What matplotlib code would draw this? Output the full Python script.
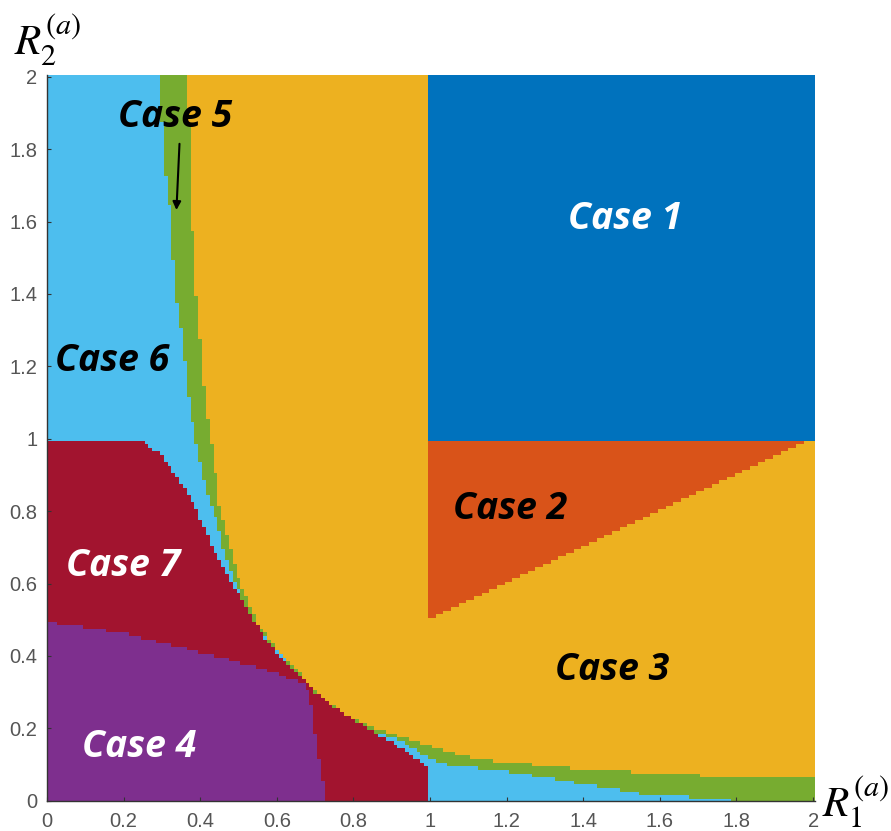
import numpy as np
import matplotlib
matplotlib.use("Agg")
import matplotlib.pyplot as plt
from matplotlib.colors import ListedColormap, BoundaryNorm

# ---- region boundaries (x, y) ----
# lower edge of the Case 5 band (Case 6 / Case 5 boundary)
band_lo_x = [0.294, 0.297, 0.307, 0.325, 0.334, 0.355, 0.368, 0.386, 0.398, 0.416,
             0.438, 0.459, 0.490, 0.520, 0.542, 0.580, 0.625, 0.668, 0.711, 0.760,
             0.820, 0.867, 0.919, 0.963, 1.023, 1.093, 1.171, 1.258, 1.388, 1.440,
             1.544, 1.644, 1.783, 1.790, 2.000]
band_lo_y = [2.000, 1.930, 1.750, 1.600, 1.420, 1.270, 1.130, 1.005, 0.940, 0.860,
             0.793, 0.701, 0.609, 0.535, 0.490, 0.440, 0.385, 0.338, 0.284, 0.240,
             0.205, 0.186, 0.168, 0.140, 0.103, 0.094, 0.085, 0.071, 0.048, 0.040,
             0.020, 0.011, 0.006, 0.000, 0.000]
# upper edge of the Case 5 band (Case 5 / Case 3 boundary)
band_hi_x = [0.364, 0.372, 0.380, 0.385, 0.394, 0.402, 0.411, 0.423, 0.433, 0.442,
             0.446, 0.455, 0.477, 0.503, 0.529, 0.550, 0.581, 0.625, 0.668, 0.711,
             0.780, 0.867, 0.954, 1.032, 1.076, 1.145, 1.240, 1.336, 1.440, 1.588,
             1.805, 2.000]
band_hi_y = [2.000, 1.820, 1.575, 1.420, 1.380, 1.244, 1.134, 1.032, 0.959, 0.885,
             0.840, 0.793, 0.701, 0.609, 0.535, 0.490, 0.444, 0.388, 0.342, 0.287,
             0.240, 0.195, 0.168, 0.140, 0.126, 0.112, 0.103, 0.092, 0.085, 0.076,
             0.065, 0.065]
# top edge of Case 7 (x < 1)
case7_x = [0.000, 0.240, 0.270, 0.300, 0.330, 0.370, 0.400, 0.425, 0.450, 0.480,
           0.510, 0.540, 0.572, 0.607, 0.659, 0.700, 0.737, 0.780, 0.833, 0.867,
           0.919, 0.954, 0.995]
case7_y = [1.000, 1.000, 0.975, 0.955, 0.910, 0.845, 0.780, 0.720, 0.665, 0.607,
           0.556, 0.500, 0.444, 0.398, 0.343, 0.300, 0.269, 0.237, 0.204, 0.181,
           0.149, 0.121, 0.094]
# top edge of Case 4
case4_x = [0.000, 0.200, 0.400, 0.485, 0.572, 0.650, 0.672, 0.685, 0.694, 0.711, 0.724, 0.728]
case4_y = [0.494, 0.463, 0.410, 0.388, 0.360, 0.333, 0.320, 0.300, 0.232, 0.104, 0.030, 0.000]
# Case 1 / Case 2 split and Case 2 lower edge slope
r1_split = 1.0
r2_split = 1.0
case2_slope = 0.5

case_colors = ["#0072BD", "#D95319", "#EDB120", "#7E2F8E", "#77AC30", "#4DBEEE", "#A2142F"]
case_names = ["Case 1", "Case 2", "Case 3", "Case 4", "Case 5", "Case 6", "Case 7"]
label_x = [1.509, 1.209, 1.475, 0.240, 0.334, 0.170, 0.198]
label_y = [1.580, 0.779, 0.334, 0.122, 1.862, 1.188, 0.620]
label_color = ["white", "black", "black", "white", "black", "black", "white"]

# ---- classify the sampling grid ----
step = 0.01
r1 = np.round(np.arange(0, 2 + step / 2, step), 2)
r2 = np.round(np.arange(0, 2 + step / 2, step), 2)
X, Y = np.meshgrid(r1, r2)

lo = np.interp(X, band_lo_x, band_lo_y, left=np.inf)
hi = np.interp(X, band_hi_x, band_hi_y, left=np.inf)
c7 = np.interp(X, case7_x, case7_y, right=-1)
c4 = np.interp(X, case4_x, case4_y, right=-1)

case = np.full(X.shape, 3)
case[Y < hi] = 5
case[Y < lo] = 6
case[(X < r1_split) & (Y < c7)] = 7
case[Y < c4] = 4
case[(X >= r1_split) & (Y >= r2_split)] = 1
case[(X >= r1_split) & (Y < r2_split) & (Y > case2_slope * X)] = 2

# ---- draw ----
plt.rcParams["mathtext.fontset"] = "stix"
fig = plt.figure(figsize=(8.91, 8.31), dpi=100)
ax = fig.add_axes([0.0527, 0.0365, 0.862, 0.8732])

cmap = ListedColormap(case_colors)
norm = BoundaryNorm(np.arange(0.5, 8.5, 1), cmap.N)
xe = np.concatenate([r1 - step / 2, [r1[-1] + step / 2]])
ye = np.concatenate([r2 - step / 2, [r2[-1] + step / 2]])
ax.pcolormesh(xe, ye, case, cmap=cmap, norm=norm, shading="flat", rasterized=True)

ax.set_xlim(0, 2.005)
ax.set_ylim(0, 2.005)
ticks = np.round(np.arange(0, 2.01, 0.2), 1)
ticklabels = [f"{t:g}" for t in ticks]
ax.set_xticks(ticks)
ax.set_xticklabels(ticklabels)
ax.set_yticks(ticks)
ax.set_yticklabels(ticklabels)
ax.tick_params(direction="in", length=3, width=0.8, colors="#333333",
               labelcolor="#555555", labelsize=14.5)
ax.tick_params(axis="x", pad=8)
ax.tick_params(axis="y", pad=7)
for lab in ax.get_xticklabels() + ax.get_yticklabels():
    lab.set_family("Liberation Sans")
for s in ["top", "right"]:
    ax.spines[s].set_visible(False)
for s in ["left", "bottom"]:
    ax.spines[s].set_color("#333333")
    ax.spines[s].set_linewidth(1.0)

for name, x, y, col in zip(case_names, label_x, label_y, label_color):
    ax.text(x, y, name, ha="center", va="baseline", color=col, fontsize=27,
            family="Open Sans", fontweight="bold", fontstyle="italic", zorder=5)

ax.annotate("", xy=(0.338, 1.632), xytext=(0.346, 1.815),
            arrowprops=dict(arrowstyle="-|>", color="black", lw=1.5,
                            mutation_scale=12, shrinkA=0, shrinkB=0), zorder=6)

fig.text(0.016, 0.953, r"$R_2^{(a)}$", ha="left", va="center", fontsize=31)
fig.text(0.96, 0.035, r"$R_1^{(a)}$", ha="center", va="center", fontsize=31)

fig.savefig("out.png", dpi=100)
